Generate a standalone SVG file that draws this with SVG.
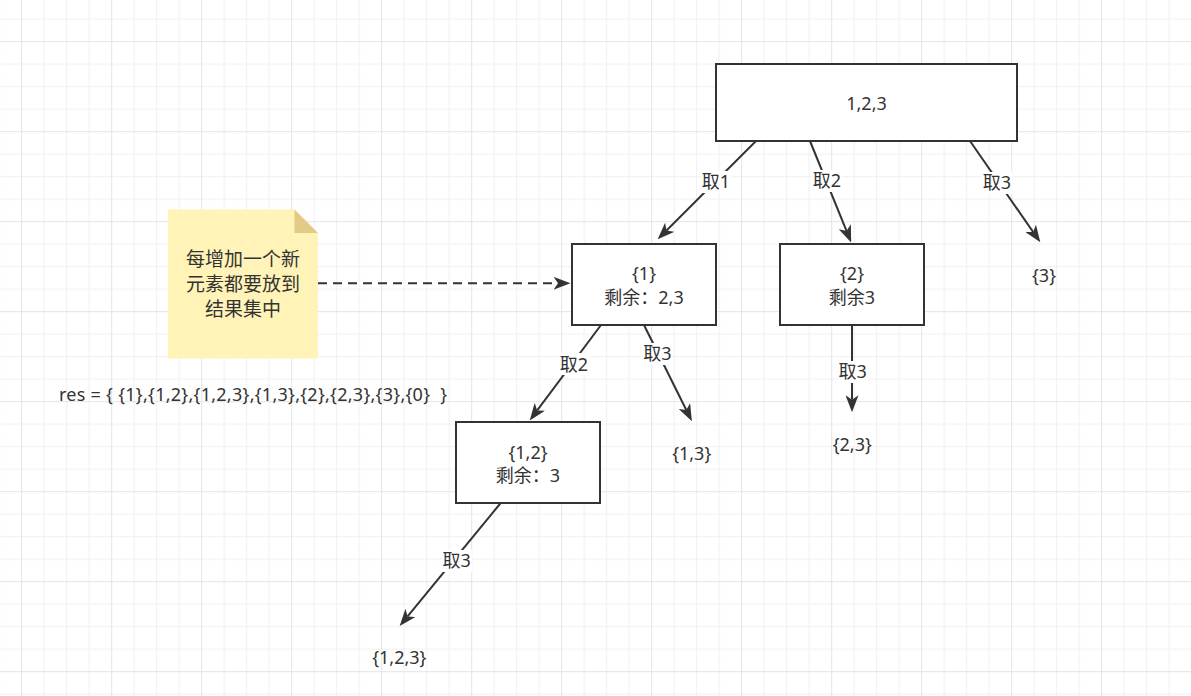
<svg xmlns="http://www.w3.org/2000/svg" width="1191" height="696" viewBox="0 0 1191 696">
  <defs>
    <pattern id="grid" patternUnits="userSpaceOnUse" x="21.2" y="41.2" width="90" height="90">
      <path d="M23,0V90M45.5,0V90M68,0V90M0,23H90M0,45.5H90M0,68H90" stroke="#f0f0f0" stroke-width="1" fill="none"/>
      <path d="M0.5,0V90M0,0.5H90" stroke="#e4e4e4" stroke-width="1" fill="none"/>
    </pattern>
    <marker id="arr" markerUnits="userSpaceOnUse" markerWidth="17" markerHeight="13" viewBox="0 0 17 13" refX="4.5" refY="6.5" orient="auto">
      <path d="M0,0 L17,6.5 L0,13 L4.5,6.5 z" fill="#333333"/>
    </marker>
    <style>
      .box { fill: #ffffff; stroke: #333333; stroke-width: 2; }
      .t { font-family: "Noto Sans", "Noto Sans CJK SC", sans-serif; font-size: 18px; fill: #333333; text-anchor: middle; }
      .note-t { font-size: 19px; }
      .edge { stroke: #333333; stroke-width: 2; fill: none; marker-end: url(#arr); }
      .dash { stroke-dasharray: 9 6; }
      .lblbg { fill: #ffffff; }
    </style>
  </defs>

  <rect x="0" y="0" width="1191" height="696" fill="#ffffff"/>
  <rect x="0" y="0" width="1191" height="696" fill="url(#grid)"/>

  <g id="connectors">
    <line class="edge" x1="756" y1="141" x2="666.5" y2="230.5"/>
    <line class="edge" x1="810" y1="141" x2="846.5" y2="230.9"/>
    <line class="edge" x1="970" y1="141" x2="1033.2" y2="232.1"/>
    <line class="edge" x1="601" y1="325" x2="537.2" y2="410.4"/>
    <line class="edge" x1="644" y1="325" x2="686.3" y2="410"/>
    <line class="edge" x1="852" y1="325" x2="852" y2="399.7"/>
    <line class="edge" x1="500.7" y1="503" x2="407.6" y2="616.4"/>
    <line class="edge dash" x1="318" y1="283.3" x2="558" y2="283.3"/>

    <rect class="lblbg" x="701" y="171" width="30" height="22"/>
    <text class="t" x="716" y="188">取1</text>
    <rect class="lblbg" x="812" y="170" width="30" height="22"/>
    <text class="t" x="827" y="187">取2</text>
    <rect class="lblbg" x="982" y="172" width="30" height="22"/>
    <text class="t" x="997" y="189">取3</text>
    <rect class="lblbg" x="559" y="353" width="30" height="22"/>
    <text class="t" x="574" y="370.5">取2</text>
    <rect class="lblbg" x="642" y="343" width="30" height="22"/>
    <text class="t" x="657.3" y="360">取3</text>
    <rect class="lblbg" x="838" y="361" width="30" height="22"/>
    <text class="t" x="852.7" y="378">取3</text>
    <rect class="lblbg" x="442" y="550" width="30" height="22"/>
    <text class="t" x="456.7" y="567">取3</text>
  </g>

  <g id="root">
    <rect class="box" x="716" y="64" width="301" height="77"/>
    <text class="t" x="866.5" y="109.5">1,2,3</text>
  </g>

  <g id="n1">
    <rect class="box" x="572" y="244" width="144" height="81"/>
    <text class="t" x="644" y="279.5">{1}</text>
    <text class="t" x="644" y="303.5">剩余：2,3</text>
  </g>

  <g id="n2">
    <rect class="box" x="780" y="244" width="144" height="81"/>
    <text class="t" x="852" y="279.5">{2}</text>
    <text class="t" x="852" y="303.5">剩余3</text>
  </g>

  <g id="n12">
    <rect class="box" x="456" y="422" width="144" height="81"/>
    <text class="t" x="528" y="458.5">{1,2}</text>
    <text class="t" x="528" y="482">剩余：3</text>
  </g>

  <g id="leaf3">
    <text class="t" x="1044" y="281.5">{3}</text>
  </g>
  <g id="leaf13">
    <text class="t" x="691.7" y="460">{1,3}</text>
  </g>
  <g id="leaf23">
    <text class="t" x="852.3" y="451">{2,3}</text>
  </g>
  <g id="leaf123">
    <text class="t" x="399.3" y="664">{1,2,3}</text>
  </g>

  <g id="note">
    <path d="M168,209.5 H294.5 L318,233 V358.5 H168 Z" fill="#fff3b8"/>
    <path d="M294.5,209.5 L318,233 H294.5 Z" fill="#e2cb86"/>
    <text class="t note-t" x="243" y="266">每增加一个新</text>
    <text class="t note-t" x="243" y="291">元素都要放到</text>
    <text class="t note-t" x="243" y="316">结果集中</text>
  </g>

  <g id="res">
    <text class="t" x="59" y="401" style="text-anchor:start" textLength="388" lengthAdjust="spacing" xml:space="preserve">res = { {1},{1,2},{1,2,3},{1,3},{2},{2,3},{3},{0}  }</text>
  </g>
</svg>
